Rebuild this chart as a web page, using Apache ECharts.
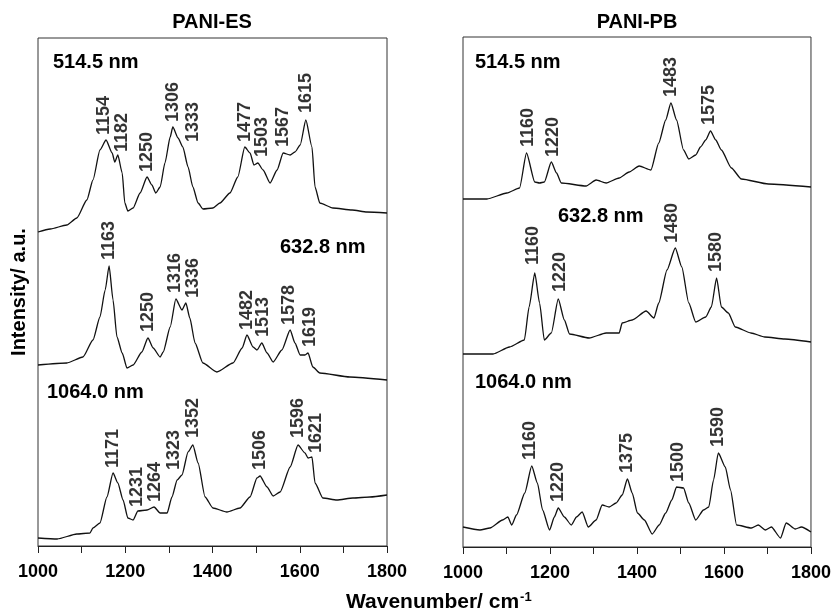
<!DOCTYPE html>
<html>
<head>
<meta charset="utf-8">
<script src="https://cdn.jsdelivr.net/npm/echarts@6/dist/echarts.min.js"></script>
<style>
    html, body, #main {
        width: 834px;
        height: 612px;
        margin: 0;
        background: #fff;
    }
</style>
</head>
<body>
<div id="main"></div>
<script>
    // spectra: [wavenumber, stacked intensity]
    var es514 = [[1000,314],[1028,317],[1066,321],[1089,328],[1112,346],[1126,366],[1142,396],[1156,406],[1170,393],
        [1176,384],[1183,391],[1193,373],[1199,343],[1206,335],[1218,338],[1234,353],[1250,369],[1261,361],[1270,353],
        [1280,359],[1291,383],[1303,409],[1309,419],[1321,408],[1332,399],[1344,379],[1355,359],[1367,343],[1378,337],
        [1401,338],[1417,343],[1440,353],[1458,369],[1474,399],[1486,393],[1495,381],[1504,383],[1516,376],[1532,363],
        [1548,376],[1562,393],[1578,391],[1589,394],[1601,401],[1614,426],[1628,399],[1635,359],[1646,343],[1676,338],
        [1720,336],[1754,334],[1800,333]];
    var es633 = [[1000,181],[1066,183],[1103,189],[1126,206],[1142,229],[1154,256],[1163,280],[1172,246],[1181,209],
        [1193,193],[1204,178],[1218,181],[1238,194],[1252,208],[1264,198],[1280,189],[1287,194],[1303,219],[1316,247],
        [1330,236],[1339,243],[1348,228],[1360,203],[1378,183],[1410,174],[1447,183],[1468,198],[1479,211],[1493,199],
        [1502,196],[1513,203],[1525,193],[1539,184],[1559,196],[1578,216],[1589,203],[1601,191],[1612,191],[1619,193],
        [1630,179],[1646,173],[1715,169],[1800,166]];
    var es1064 = [[1000,8],[1044,7],[1089,12],[1119,13],[1126,18],[1142,23],[1158,49],[1172,73],[1183,63],[1195,46],
        [1206,28],[1218,26],[1229,35],[1250,36],[1266,39],[1280,33],[1296,33],[1307,49],[1319,66],[1330,71],[1344,94],
        [1355,101],[1367,83],[1383,49],[1401,38],[1433,34],[1463,38],[1486,49],[1502,68],[1509,70],[1525,59],[1539,50],
        [1555,54],[1578,79],[1596,101],[1612,93],[1619,88],[1628,89],[1635,63],[1653,48],[1685,46],[1722,48],[1761,49],
        [1800,51]];
    var pb514 = [[1000,348],[1055,348],[1101,354],[1130,359],[1146,394],[1165,365],[1176,364],[1187,365],[1203,385],
        [1215,374],[1226,364],[1283,361],[1306,367],[1329,364],[1359,369],[1382,375],[1405,381],[1432,377],[1450,404],
        [1466,427],[1478,444],[1491,427],[1507,397],[1519,388],[1535,392],[1546,400],[1558,407],[1569,416],[1581,407],
        [1594,397],[1617,379],[1640,368],[1702,363],[1800,360]];
    var pb633 = [[1000,193],[1069,193],[1107,200],[1141,207],[1152,240],[1165,274],[1176,244],[1187,207],[1203,214],
        [1219,248],[1233,227],[1245,213],[1290,209],[1329,214],[1359,214],[1366,224],[1389,227],[1421,236],[1439,229],
        [1450,244],[1469,277],[1488,299],[1503,280],[1519,244],[1535,225],[1558,230],[1571,240],[1583,269],[1594,240],
        [1610,234],[1626,220],[1662,214],[1694,210],[1740,208],[1800,205]];
    var pb1064 = [[1000,20],[1039,17],[1062,19],[1091,27],[1103,30],[1112,22],[1123,32],[1142,54],[1158,81],[1171,64],
        [1183,37],[1199,17],[1210,30],[1219,39],[1233,30],[1249,22],[1261,30],[1274,35],[1288,20],[1306,27],[1320,42],
        [1336,40],[1352,44],[1366,52],[1378,68],[1389,54],[1401,34],[1417,27],[1435,13],[1451,22],[1466,34],[1480,47],
        [1491,60],[1507,59],[1519,44],[1535,27],[1553,37],[1565,40],[1576,67],[1587,94],[1603,80],[1615,57],[1629,22],
        [1663,19],[1679,22],[1695,17],[1709,20],[1730,9],[1743,24],[1764,18],[1778,20],[1800,15]];

    // peak labels: [wavenumber, intensity at text start, text]
    var esPeaks = [[1151,411,'1154'],[1193,394,'1182'],[1250,374,'1250'],[1309,424,'1306'],[1355,404,'1333'],
        [1474,404,'1477'],[1513,389,'1503'],[1562,399,'1567'],[1614,433,'1615'],
        [1163,286,'1163'],[1252,214,'1250'],[1314,253,'1316'],[1355,248,'1336'],[1479,216,'1482'],
        [1516,209,'1513'],[1576,221,'1578'],[1623,199,'1619'],
        [1172,78,'1171'],[1227,39,'1231'],[1268,44,'1264'],[1312,76,'1323'],[1355,108,'1352'],
        [1509,76,'1506'],[1596,108,'1596'],[1637,93,'1621']];
    var pbPeaks = [[1149,400,'1160'],[1206,390,'1220'],[1478,450,'1483'],[1565,422,'1575'],
        [1160,282,'1160'],[1222,255,'1220'],[1480,304,'1480'],[1581,275,'1580'],
        [1155,87,'1160'],[1219,45,'1220'],[1377,74,'1375'],[1494,65,'1500'],[1587,100,'1590']];

    var panelTitles = ['PANI-ES', 'PANI-PB'];
    var laserLabels = ['514.5 nm', '632.8 nm', '1064.0 nm'];

    var font = '"Liberation Sans", Arial, sans-serif';
    var chart = echarts.init(document.getElementById('main'));

    function xAxis(idx) {
        return {
            type: 'value', gridIndex: idx, min: 1000, max: 1800, interval: 200,
            axisLine: {lineStyle: {color: '#222', width: 1}},
            axisTick: {length: 7, lineStyle: {color: '#222'}},
            minorTick: {show: true, splitNumber: 2, length: 7, lineStyle: {color: '#222'}},
            splitLine: {show: false},
            axisLabel: {fontFamily: font, fontSize: 18, fontWeight: 'bold', color: '#000', margin: 17,
                formatter: function (v) { return String(v); }}
        };
    }
    function yAxis(idx, max) {
        return {type: 'value', gridIndex: idx, min: 0, max: max, show: false};
    }
    function spectrum(data, idx) {
        return {
            type: 'line', xAxisIndex: idx, yAxisIndex: idx, data: data, showSymbol: false,
            smooth: 0.2, smoothMonotone: 'x',
            lineStyle: {color: '#111', width: 1.3}, silent: true, animation: false
        };
    }
    function peakLabels(data, idx) {
        return {
            type: 'scatter', xAxisIndex: idx, yAxisIndex: idx, data: data, symbolSize: 0, silent: true,
            animation: false,
            label: {
                show: true, position: 'inside', rotate: 90, align: 'left', verticalAlign: 'middle',
                fontFamily: font, fontSize: 18, fontWeight: 'bold', color: '#000',
                formatter: function (p) { return p.data[2]; }
            }
        };
    }
    function txt(x, y, text, align) {
        return {
            type: 'text', x: x, y: y,
            style: {text: text, font: 'bold 20px ' + font, fill: '#000',
                textAlign: align || 'left', textVerticalAlign: 'middle'}
        };
    }

    chart.setOption({
        animation: false,
        grid: [
            {left: 38, width: 349, top: 38, height: 508, show: true, borderColor: '#333', borderWidth: 1},
            {left: 463, width: 350, top: 37, height: 510, show: true, borderColor: '#333', borderWidth: 1}
        ],
        xAxis: [xAxis(0), xAxis(1)],
        yAxis: [yAxis(0, 508), yAxis(1, 510)],
        series: [
            spectrum(es514, 0), spectrum(es633, 0), spectrum(es1064, 0),
            spectrum(pb514, 1), spectrum(pb633, 1), spectrum(pb1064, 1),
            peakLabels(esPeaks, 0), peakLabels(pbPeaks, 1)
        ],
        graphic: [
            txt(212, 22, panelTitles[0], 'center'),
            txt(637, 22, panelTitles[1], 'center'),
            txt(53, 62, laserLabels[0]),
            txt(280, 247, laserLabels[1]),
            txt(47, 392, laserLabels[2]),
            txt(475, 62, laserLabels[0]),
            txt(558, 216, laserLabels[1]),
            txt(475, 382, laserLabels[2]),
            {
                type: 'text', x: 19, y: 292, rotation: Math.PI / 2,
                style: {text: 'Intensity/ a.u.', font: 'bold 20px ' + font, fill: '#000',
                    textAlign: 'center', textVerticalAlign: 'middle'}
            },
            {
                type: 'text', x: 346, y: 591,
                style: {
                    text: '{a|Wavenumber/ cm}{s|-1}', fill: '#000',
                    rich: {
                        a: {fontFamily: font, fontSize: 21, fontWeight: 'bold', color: '#000', lineHeight: 23},
                        s: {fontFamily: font, fontSize: 13, fontWeight: 'bold', color: '#000', verticalAlign: 'top', lineHeight: 23, padding: [0, 0, 10, 1]}
                    }
                }
            }
        ]
    });
</script>
</body>
</html>
